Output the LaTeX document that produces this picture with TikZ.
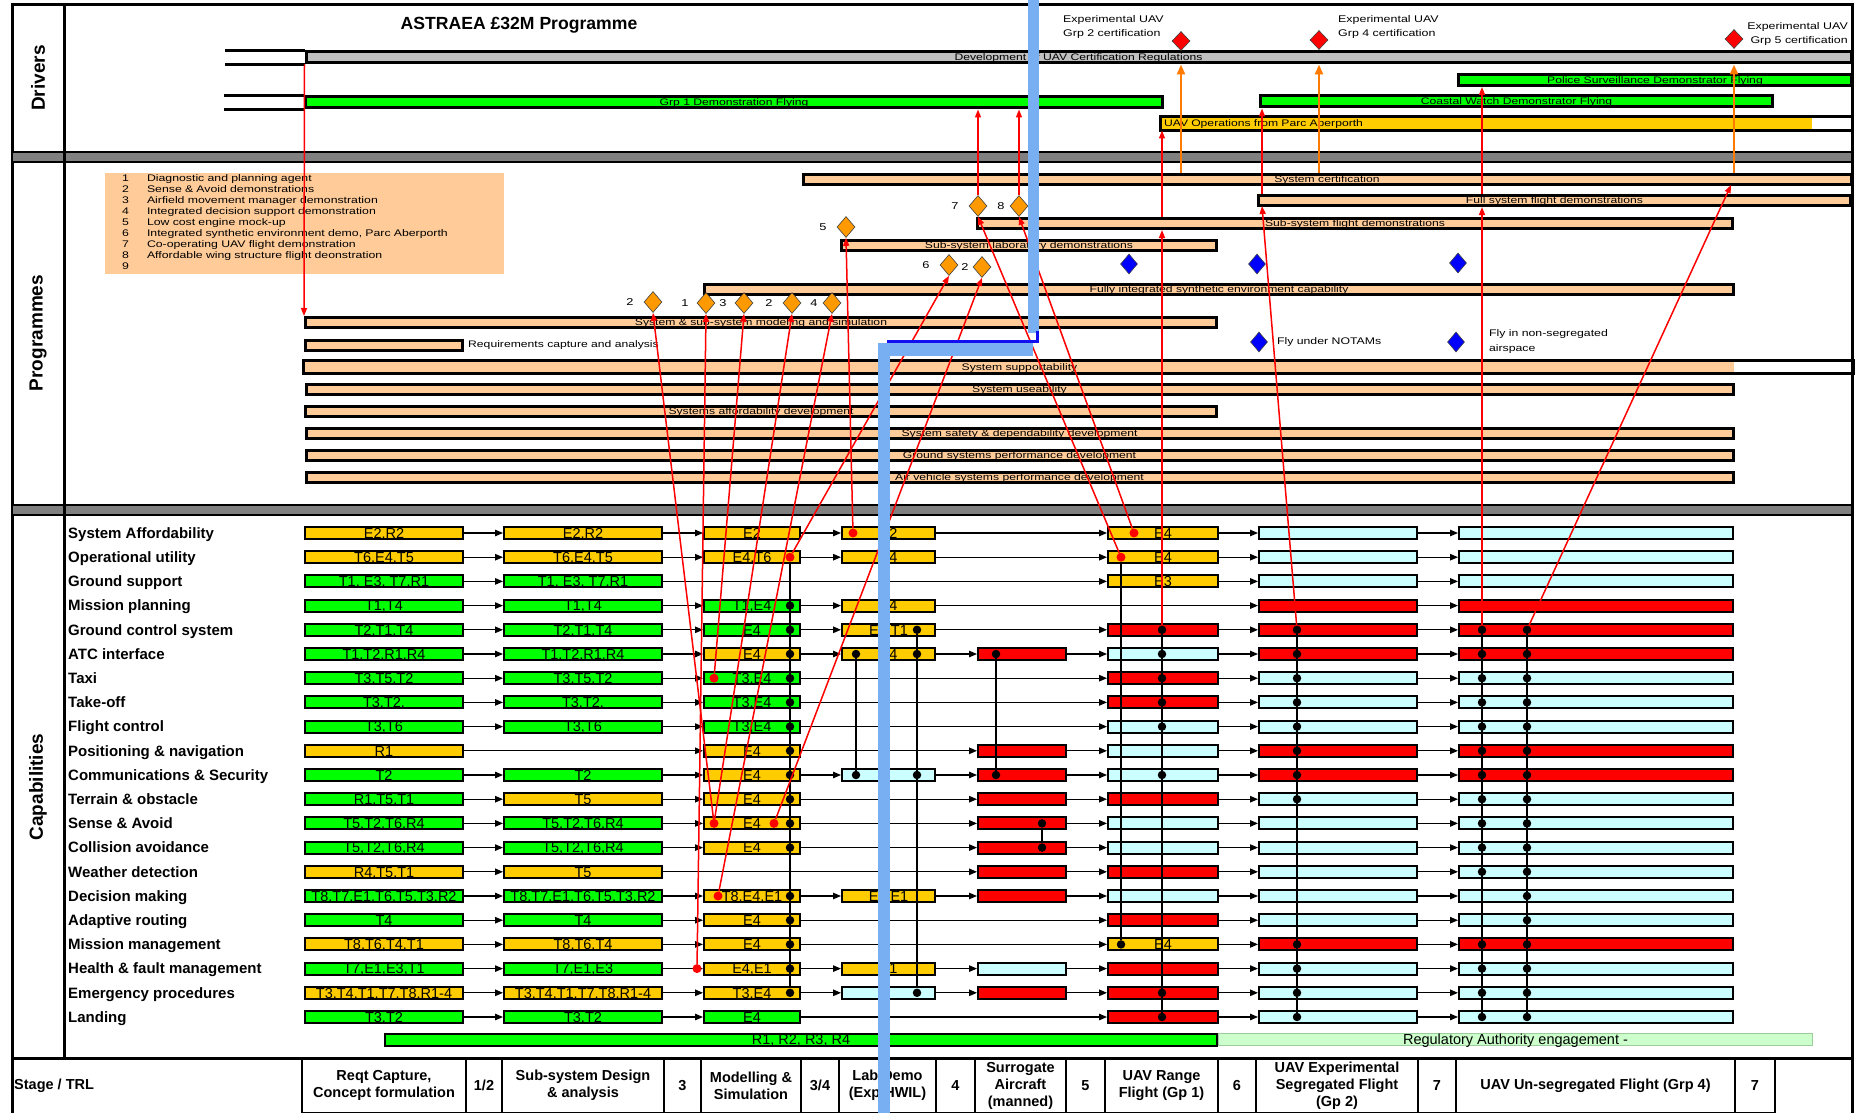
\documentclass[tikz,border=0pt]{standalone}
\usepackage{fontspec}
\setmainfont{Liberation Sans}
\newfontfamily\narrowfont[FakeStretch=1.28]{Liberation Sans}
\usetikzlibrary{arrows.meta,shapes.geometric}
\definecolor{capY}{HTML}{FFCC00}
\definecolor{capG}{HTML}{00FF00}
\definecolor{capR}{HTML}{FF0000}
\definecolor{capC}{HTML}{CCFFFF}
\definecolor{progpeach}{HTML}{FFCC99}
\definecolor{drivergray}{HTML}{C0C0C0}
\definecolor{bandgray}{HTML}{808080}
\definecolor{mileorange}{HTML}{FF9900}
\definecolor{mileblue}{HTML}{0000FF}
\definecolor{linkorange}{HTML}{FF7A00}
\definecolor{todayblue}{HTML}{78AEF2}
\definecolor{todayline}{HTML}{1010F0}
\definecolor{regulgreen}{HTML}{CCFFCC}
\definecolor{regulline}{HTML}{9ACD9A}
\tikzset{
  frameline/.style={line width=3pt},
  band/.style={draw=black, line width=2.5pt, fill=bandgray},
  section/.style={rotate=90, inner sep=0pt, font=\bfseries\fontsize{19}{22}\selectfont},
  heading/.style={inner sep=0pt, font=\bfseries\fontsize{17.6}{20}\selectfont},
  barline/.style={line width=3pt},
  drvbar/.style={
    draw=black,
    line width=3pt,
    fill=#1,
    minimum height=11,
    inner sep=0pt,
    text height=6.8pt, text depth=0pt,
    font=\narrowfont\fontsize{9.5}{11}\selectfont
  },
  progbar/.style={
    draw=black,
    line width=3pt,
    fill=#1,
    minimum height=10,
    inner sep=0pt,
    text height=6.8pt, text depth=0pt,
    font=\narrowfont\fontsize{9.5}{11}\selectfont
  },
  progbar/.default=progpeach,
  progtext/.style={inner sep=1pt, label distance=3pt, font=\narrowfont\fontsize{9.5}{11}\selectfont},
  key/.style={fill=progpeach, inner xsep=17pt, inner ysep=1pt, text width=365pt, minimum height=101,
    align=left, font=\narrowfont\fontsize{9.6}{11}\selectfont},
  exptext/.style={inner sep=0pt, align=left, font=\narrowfont\fontsize{9.7}{14}\selectfont},
  milestone/.style={diamond, draw=black!75, line width=0.6pt, fill=#1, minimum width=18, minimum height=21, inner sep=0pt},
  tick/.style={inner sep=1pt, label distance=9pt, font=\narrowfont\fontsize{10}{12}\selectfont},
  flytext/.style={inner sep=1pt, label distance=8pt, align=left, font=\narrowfont\fontsize{9.6}{15}\selectfont},
  capbox/.style={
    draw=black,
    line width=2pt,
    fill=#1,
    minimum height=12,
    inner sep=0pt,
    text height=10.4pt, text depth=0pt,
    font=\fontsize{14.5}{16}\selectfont
  },
  caplabel/.style={anchor=west, inner sep=0pt, text height=10.7pt, text depth=0pt, font=\bfseries\fontsize{15}{18}\selectfont},
  flow/.style={-{Triangle[length=8pt,width=6.5pt]}, line width=1.2pt},
  dep/.style={line width=1.3pt},
  dot/.style={circle, fill=black, minimum size=8.5, inner sep=0pt},
  reddot/.style={circle, fill=capR, minimum size=9, inner sep=0pt},
  link/.style={-{Triangle[length=8pt,width=6pt]}, line width=1.5pt, draw=capR},
  uplink/.style={-{Triangle[length=10pt,width=8pt]}, line width=2.6pt, draw=linkorange},
  stagecell/.style={draw=black, line width=2pt, minimum height=55, inner sep=0pt, align=center,
    font=\bfseries\fontsize{14.5}{17}\selectfont},
  stagetext/.style={inner sep=0pt, font=\bfseries\fontsize{14.5}{17}\selectfont}
}

\begin{document}
\begin{tikzpicture}[x=1pt,y=-1pt]
  \useasboundingbox (0,0) rectangle (1858,1113);

  % frame and section bands
  \draw[frameline] (12,1113) -- (12,5) -- (1852,5) -- (1852,1113);
  \draw[band] (12,152) rectangle (1852,162);
  \draw[band] (12,505) rectangle (1852,515);
  \draw[frameline] (64,5) -- (64,1058);
  \draw[frameline] (12,1058) -- (1852,1058);

  \node[section] (drivers) at (38,78) {Drivers};
  \node[section] (programmes) at (38,333) {Programmes};
  \node[section] (capabilities) at (38,787) {Capabilities};
  \node[heading] (title) at (519,25) {ASTRAEA £32M Programme};

  % drivers
  \node[drvbar=drivergray, minimum width=1545] (dev) at (1078.5,57.5) {Development of UAV Certification Regulations};
  \draw[barline] (dev.north west) -- ++(-80,0) (dev.south west) -- ++(-80,0);
  \node[drvbar=capG, minimum width=857] (grp1) at (734,102.5) {Grp 1 Demonstration Flying};
  \draw[barline] (grp1.north west) -- ++(-80,0) (grp1.south west) -- ++(-80,0);
  \node[drvbar=capG, minimum width=393] (police) at (1655,80) {Police Surveillance Demonstrator Flying};
  \node[drvbar=capG, minimum width=512] (coast) at (1516.5,101.5) {Coastal Watch Demonstrator Flying};
  \node[drvbar=capY, draw=none, minimum width=650, text width=646, align=left] (ops) at (1487,123.5) {UAV Operations from Parc Aberporth};
  \draw[barline] (ops.north west) rectangle ([xshift=39]ops.south east);

  \node[milestone=capR, minimum height=19] (g2) at (1181,41) {};
  \node[milestone=capR, minimum height=19] (g4) at (1319,40) {};
  \node[milestone=capR, minimum height=19] (g5) at (1734,39) {};
  \node[exptext, anchor=north west] (g2txt) at (1063,15) {Experimental UAV\\Grp 2 certification};
  \node[exptext, anchor=north west] (g4txt) at (1338,15) {Experimental UAV\\Grp 4 certification};
  \node[exptext, anchor=north east, align=right] (g5txt) at (1848,22) {Experimental UAV\\Grp 5 certification};

  % programmes
  \node[progbar, minimum width=1048] (cert) at (1327,179) {System certification};
  \node[progbar, minimum width=592] (fsd) at (1554.5,200.5) {Full system flight demonstrations};
  \node[progbar, minimum width=755] (sfd) at (1355,223.5) {Sub-system flight demonstrations};
  \node[progbar, minimum width=375] (sld) at (1029,245.5) {Sub-system laboratory demonstrations};
  \node[progbar, minimum width=1029] (fise) at (1219,289) {Fully integrated synthetic environment capability};
  \node[progbar, minimum width=911] (sss) at (761,322.5) {System \& sub-system modeling and simulation};
  \node[progbar, minimum width=157, label={[progtext]right:Requirements capture and analysis}] (req) at (384,345) {};
  \node[progbar, draw=none, minimum width=1429] (supp) at (1019.5,367) {System supportability};
  \draw[barline] (supp.north west) rectangle ([xshift=118]supp.south east);
  \node[progbar, minimum width=1427] (use) at (1019.5,389) {System useability};
  \node[progbar, minimum width=911] (afford) at (761,411) {Systems affordability development};
  \node[progbar, minimum width=1427] (safety) at (1019.5,433) {System safety \& dependability development};
  \node[progbar, minimum width=1427] (ground) at (1019.5,455) {Ground systems performance development};
  \node[progbar, minimum width=1427] (air) at (1019.5,477) {Air vehicle systems performance development};

  \node[key, anchor=north west] (legend) at (105,173) {%
    \begin{tabular}{@{}l@{\hspace{18pt}}l@{}}
      1 & Diagnostic and planning agent\\
      2 & Sense \& Avoid demonstrations\\
      3 & Airfield movement manager demonstration\\
      4 & Integrated decision support demonstration\\
      5 & Low cost engine mock-up\\
      6 & Integrated synthetic environment demo, Parc Aberporth\\
      7 & Co-operating UAV flight demonstration\\
      8 & Affordable wing structure flight deonstration\\
      9 & \\
    \end{tabular}};

  \node[milestone=mileorange, label={[tick]left:2}] (ms2a) at (653,302) {};
  \node[milestone=mileorange, label={[tick,label distance=7pt]left:1}] (ms1) at (706,303) {};
  \node[milestone=mileorange, label={[tick,label distance=7pt]left:3}] (ms3) at (744,303) {};
  \node[milestone=mileorange, label={[tick]left:2}] (ms2b) at (792,303) {};
  \node[milestone=mileorange, label={[tick,label distance=4pt]left:4}] (ms4) at (832,303) {};
  \node[milestone=mileorange, label={[tick]left:5}] (ms5) at (846,227) {};
  \node[milestone=mileorange, label={[tick]left:6}] (ms6) at (949,265) {};
  \node[milestone=mileorange, label={[tick,label distance=3pt]left:2}] (ms2c) at (982,267) {};
  \node[milestone=mileorange, label={[tick]left:7}] (ms7) at (978,206) {};
  \node[milestone=mileorange, label={[tick,label distance=4pt]left:8}] (ms8) at (1019,206) {};

  \node[milestone=mileblue, minimum width=17, minimum height=20] (bd1) at (1129,264) {};
  \node[milestone=mileblue, minimum width=17, minimum height=20] (bd2) at (1257,264) {};
  \node[milestone=mileblue, minimum width=17, minimum height=20] (bd3) at (1458,263) {};
  \node[milestone=mileblue, minimum width=17, minimum height=20, label={[flytext]right:Fly under NOTAMs}] (bd4) at (1259,342) {};
  \node[milestone=mileblue, minimum width=17, minimum height=20, label={[flytext,label distance=23pt]right:{Fly in non-segregated\\airspace}}] (bd5) at (1456,342) {};

  % capabilities
  \foreach \lab [count=\row from 0] in {System Affordability, Operational utility, Ground support,
      Mission planning, Ground control system, ATC interface, Taxi, Take-off, Flight control,
      Positioning \& navigation, Communications \& Security, Terrain \& obstacle, Sense \& Avoid,
      Collision avoidance, Weather detection, Decision making, Adaptive routing,
      Mission management, Health \& fault management, Emergency procedures, Landing}
    \node[caplabel] (lab\row) at (68,{533+24.2*\row}) {\lab};

  \foreach \row/\cells in {
      0/{Y/{E2,R2},Y/{E2,R2},Y/E2,Y/E2,N/,Y/E4,C/,C/},
      1/{Y/{T6,E4,T5},Y/{T6,E4,T5},Y/{E4,T6},Y/E4,N/,Y/E4,C/,C/},
      2/{G/{T1, E3, T7,R1},G/{T1, E3, T7,R1},N/,N/,N/,Y/E3,C/,C/},
      3/{G/{T1,T4},G/{T1,T4},G/{T1,E4},Y/E4,N/,N/,R/,R/},
      4/{G/{T2,T1,T4},G/{T2,T1,T4},G/E4,Y/{E4,T1},N/,R/,R/,R/},
      5/{G/{T1,T2,R1,R4},G/{T1,T2,R1,R4},Y/E4,Y/E4,R/,C/,R/,R/},
      6/{G/{T3,T5,T2},G/{T3,T5,T2},G/{T3,E4},N/,N/,R/,C/,C/},
      7/{G/{T3,T2,},G/{T3,T2,},G/{T3,E4},N/,N/,R/,C/,C/},
      8/{G/{T3,T6},G/{T3,T6},G/{T3,E4},N/,N/,C/,C/,C/},
      9/{Y/R1,N/,Y/E4,N/,R/,C/,R/,R/},
      10/{G/T2,G/T2,Y/E4,C/,R/,C/,R/,R/},
      11/{G/{R1,T5,T1},Y/T5,Y/E4,N/,R/,R/,C/,C/},
      12/{G/{T5,T2,T6,R4},G/{T5,T2,T6,R4},Y/E4,N/,R/,C/,C/,C/},
      13/{G/{T5,T2,T6,R4},G/{T5,T2,T6,R4},Y/E4,N/,R/,C/,C/,C/},
      14/{Y/{R4,T5,T1},Y/T5,N/,N/,R/,R/,C/,C/},
      15/{G/{T8,T7,E1,T6,T5,T3,R2},G/{T8,T7,E1,T6,T5,T3,R2},Y/{T8,E4,E1},Y/{E4,E1},R/,C/,C/,C/},
      16/{G/T4,G/T4,Y/E4,N/,N/,R/,C/,C/},
      17/{Y/{T8,T6,T4,T1},Y/{T8,T6,T4},Y/E4,N/,N/,Y/E4,R/,R/},
      18/{G/{T7,E1,E3,T1},G/{T7,E1,E3},Y/{E4,E1},Y/E1,C/,R/,C/,C/},
      19/{Y/{T3,T4,T1,T7,T8,R1-4},Y/{T3,T4,T1,T7,T8,R1-4},Y/{T3,E4},C/,R/,R/,C/,C/},
      20/{G/{T3,T2},G/{T3,T2},G/E4,N/,N/,R/,C/,C/}} {
    \foreach \fc/\txt [count=\k] in \cells {
      \if\fc N\else
        \pgfmathsetmacro\cx{{384,583,752,888.5,1022,1163,1338,1596}[\k-1]}
        \pgfmathsetmacro\cw{{158,158,96,93,88,110,158,274}[\k-1]}
        \node[capbox=cap\fc, minimum width=\cw] (r\row c\k) at (\cx,{533+24.2*\row}) {\txt};
        \ifnum\k>1 \draw[flow] (\prevcell) -- (r\row c\k);\fi
        \xdef\prevcell{r\row c\k}
      \fi
    }
  }

  % links from capabilities
  \node[reddot] (rdafd) at (853,533) {};
  \node[reddot] (rdopu) at (790,557.2) {};
  \node[reddot] (rdtaxi) at (714,678.2) {};
  \node[reddot] (rdsa1) at (714,823.4) {};
  \node[reddot] (rdsa2) at (774,823.4) {};
  \node[reddot] (rddec) at (718,896) {};
  \node[reddot] (rdhealth) at (697,968.6) {};
  \node[reddot] (rdfa0) at (1134,533) {};
  \node[reddot] (rdfo1) at (1121,557.2) {};

  \foreach \vx/\vtop/\vbot/\vdots [count=\vl] in {
      790/rdopu/19/{3,4,5,6,7,8,9,10,11,12,13,15,16,17,18,19},
      856/d2r5/10/{5,10},
      917/d3r4/19/{4,5,10,19},
      996/d4r5/10/{5,10},
      1042/d5r12/13/{12,13},
      1121/rdfo1/17/{17},
      1162/d7r4/20/{4,5,6,7,8,10,19,20},
      1297/d8r4/20/{4,5,6,7,8,9,10,11,17,18,19,20},
      1482/d9r4/20/{4,5,6,7,8,9,10,11,12,13,14,17,18,19,20},
      1527/d10r4/20/{4,5,6,7,8,9,10,11,12,13,14,15,16,17,18,19,20}} {
    \foreach \row in \vdots
      \node[dot] (d\vl r\row) at (\vx,{533+24.2*\row}) {};
    \draw[dep] (\vtop) -- (d\vl r\vbot);
  }

  \draw[link] (dev.south west) -- (sss.north west);
  \draw[link] (rdhealth) -- (ms1.south);
  \draw[link] (rdsa1) -- (ms2a.south);
  \draw[link] (rdsa1) -- (ms2b.south);
  \draw[link] (rdtaxi) -- (ms3.south);
  \draw[link] (rddec) -- (ms4.south);
  \draw[link] (rdafd) -- (ms5.south);
  \draw[link] (rdopu) -- (ms6.south);
  \draw[link] (rdsa2) -- (ms2c.south);
  \draw[link] (rdfo1) -- (ms7.south);
  \draw[link] (rdfa0) -- (ms8.south);
  \draw[link] (ms7.north) -- (grp1.south -| ms7);
  \draw[link] (ms8.north) -- (grp1.south -| ms8);
  \draw[link] (d7r4) -- (sfd.south -| d7r4);
  \draw[link] (sfd.north -| d7r4) -- (ops.south -| d7r4);
  \coordinate (fsdin) at (1262,206);
  \draw[link] (d8r4) -- (fsdin);
  \draw[link] (fsd.north -| fsdin) -- (coast.south -| fsdin);
  \draw[link] (d9r4) -- (fsd.south -| d9r4);
  \draw[link] (fsd.north -| d9r4) -- (police.south -| d9r4);
  \coordinate (certin) at (1731,185);
  \draw[link] (d10r4) -- (certin);
  \draw[uplink] (cert.north -| g2) -- (dev.south -| g2);
  \draw[uplink] (cert.north -| g4) -- (dev.south -| g4);
  \draw[uplink] (cert.north -| g5) -- (dev.south -| g5);

  % regulation bars and stage table
  \node[capbox=capG, minimum width=832] (rall) at (801,1039.5) {R1, R2, R3, R4};
  \node[capbox=regulgreen, draw=regulline, line width=1pt, minimum width=594] (authority) at (1515.5,1039.5) {Regulatory Authority engagement -};

  \node[stagetext, anchor=west] (stagetrl) at (14,1085.5) {Stage / TRL};
  \foreach \xl/\xr/\txt in {
      302/466/{Reqt Capture,\\Concept formulation}, 466/502/{1/2},
      502/664/{Sub-system Design\\\& analysis}, 664/701/3,
      701/801/{Modelling \&\\Simulation}, 801/839/{3/4},
      839/936/{Lab Demo\\(Exp HWIL)}, 936/975/4,
      975/1066/{Surrogate\\Aircraft\\(manned)}, 1066/1105/5,
      1105/1218/{UAV Range\\Flight (Gp 1)}, 1218/1256/6,
      1256/1418/{UAV Experimental\\Segregated Flight\\(Gp 2)}, 1418/1456/7,
      1456/1735/{UAV Un-segregated Flight (Grp 4)}, 1735/1775/7}
    \node[stagecell, minimum width={\xr-\xl}] (s\xl) at ({(\xl+\xr)/2},1085.5) {\txt};

  % today marker
  \fill[todayblue] (1028,0) rectangle (1039,333);
  \fill[todayblue] (878,343) rectangle (1033,356);
  \fill[todayblue] (878,343) rectangle (890,1113);
  \draw[todayline, line width=3pt] (1037.5,331) |- (887,341.5);
\end{tikzpicture}
\end{document}
